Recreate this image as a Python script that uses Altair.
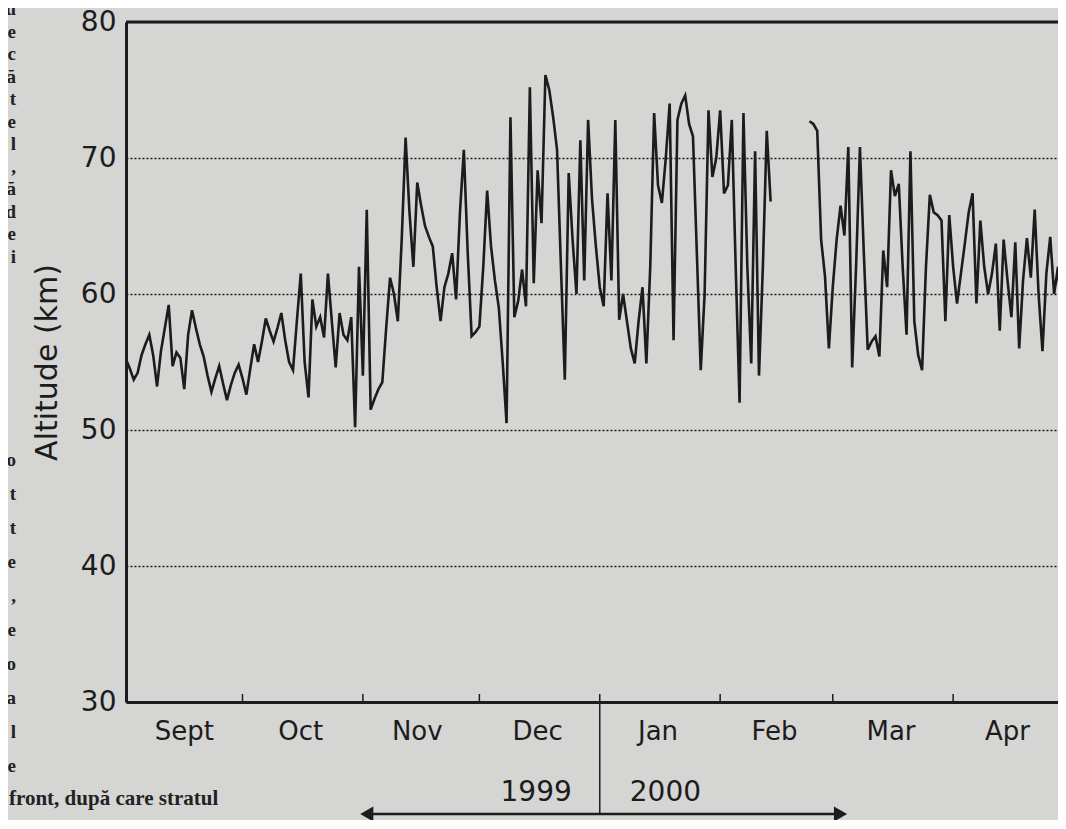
import altair as alt
import pandas as pd

# ---------------- data ----------------
start_date = "1999-09-01"          # first daily value
# daily altitude (km), day 0 = 1 Sept 1999; None = no data (mid-February gap)
altitude_km = [
    55.2, 54.5, 53.7, 54.2, 55.5, 56.3, 57.0, 55.5, 53.2, 55.8,
    57.5, 59.2, 54.7, 55.7, 55.3, 53.0, 57.0, 58.8, 57.5, 56.3,
    55.4, 54.0, 52.8, 53.8, 54.7, 53.4, 52.2, 53.3, 54.2, 54.8,
    53.8, 52.6, 54.5, 56.3, 55.0, 56.5, 58.2, 57.3, 56.5, 57.5,
    58.6, 56.6, 55.0, 54.4, 58.0, 61.5, 55.0, 52.4, 59.6, 57.6,
    58.3, 56.8, 61.5, 58.0, 54.6, 58.6, 57.0, 56.6, 58.3, 50.2,
    62.0, 54.0, 66.2, 51.5, 52.3, 53.0, 53.5, 57.5, 61.2, 60.0,
    58.0, 64.0, 71.5, 66.0, 62.0, 68.2, 66.5, 65.0, 64.2, 63.5,
    60.5, 58.0, 60.5, 61.5, 63.0, 59.6, 66.0, 70.6, 63.0, 56.9,
    57.2, 57.6, 62.0, 67.6, 63.5, 61.0, 59.0, 55.0, 50.5, 73.0,
    58.3, 59.5, 61.8, 59.1, 75.2, 60.8, 69.1, 65.2, 76.1, 75.0,
    73.0, 70.6, 62.0, 53.7, 68.9, 64.0, 60.0, 71.3, 61.0, 72.8,
    67.0, 63.5, 60.5, 59.1, 67.4, 61.0, 72.8, 58.1, 60.0, 58.0,
    56.0, 54.9, 58.0, 60.5, 54.9, 62.0, 73.3, 68.0, 66.7, 70.0,
    74.0, 56.6, 72.8, 74.0, 74.6, 72.5, 71.6, 63.0, 54.4, 60.0,
    73.5, 68.6, 70.0, 73.5, 67.4, 68.0, 72.8, 62.0, 52.0, 73.3,
    62.0, 54.9, 70.5, 54.0, 62.0, 72.0, 66.8,
    None, None, None, None, None, None, None, None, None,
    72.7, 72.5, 72.0, 64.0, 61.3, 56.0, 60.5, 64.0, 66.5, 64.3,
    70.8, 54.6, 62.0, 70.8, 63.0, 55.9, 56.5, 56.9, 55.4, 63.2,
    60.5, 69.1, 67.2, 68.1, 62.0, 57.0, 70.5, 58.0, 55.5, 54.4,
    62.0, 67.3, 66.0, 65.8, 65.4, 58.0, 65.8, 62.0, 59.3, 61.5,
    63.7, 66.0, 67.4, 59.3, 65.4, 62.0, 60.0, 61.5, 63.7, 57.3,
    64.0, 61.0, 58.3, 63.8, 56.0, 61.0, 64.1, 61.2, 66.2, 60.0,
    55.8, 61.5, 64.2, 60.0, 62.0, 57.8,
]
x_domain = ["1999-09-01", "2000-04-28"]
month_starts = ["1999-09-01", "1999-10-01", "1999-11-01", "1999-12-01",
                "2000-01-01", "2000-02-01", "2000-03-01", "2000-04-01"]
month_mids = ["1999-09-16", "1999-10-16", "1999-11-15", "1999-12-16",
              "2000-01-16", "2000-02-15", "2000-03-16", "2000-04-15"]
month_labels = ["Sept", "Oct", "Nov", "Dec", "Jan", "Feb", "Mar", "Apr"]
year_split = "2000-01-01"
year_left, year_right = "1999", "2000"
arrow_span = ["1999-11-02", "2000-03-03"]
y_ticks = [30, 40, 50, 60, 70, 80]
y_domain = [30, 80]

margin_upper = "u\ne\nc\nă\nt\ne\nl\n,\nă\nd\ne\ni"
margin_lower = "o\nt\nt\ne\n,\ne\no\na\nl\ne"
margin_bottom = "front, după care stratul"

# ---------------- tables ----------------
dates = pd.date_range(start_date, periods=len(altitude_km), freq="D")
df = pd.DataFrame({
    "date": dates.strftime("%Y-%m-%d"),
    "alt": altitude_km,
    "seg": [0 if i < 170 else 1 for i in range(len(altitude_km))],
})
df = df.dropna().reset_index(drop=True)

months_df = pd.DataFrame({"start": month_starts, "mid": month_mids, "label": month_labels})
split_df = pd.DataFrame({"date": [year_split]})
arrow_df = pd.DataFrame({"a": [arrow_span[0]], "b": [arrow_span[1]]})
heads_df = pd.DataFrame({"date": arrow_span, "shape": ["triangle-left", "triangle-right"]})

INK = "#1c1c1c"
FONT = "DejaVu Sans"
W, H = 932, 680
ARROW_Y = H + 112

xscale = alt.Scale(domain=x_domain)
yscale = alt.Scale(domain=y_domain, nice=False, zero=False)

line = alt.Chart(df).mark_line(color=INK, strokeWidth=2.6, clip=True).encode(
    x=alt.X("date:T", scale=xscale,
            axis=alt.Axis(title=None, labels=False, ticks=False, grid=False,
                          domainWidth=3, domainColor=INK)),
    y=alt.Y("alt:Q", scale=yscale,
            axis=alt.Axis(values=y_ticks, title="Altitude (km)", ticks=False,
                          domainWidth=3, domainColor=INK,
                          grid=True, gridDash=[2, 2], gridColor="#1e1e1e", gridWidth=1.4,
                          labelFont=FONT, labelFontSize=28, labelColor=INK, labelPadding=10,
                          titleFont=FONT, titleFontSize=30, titleFontWeight="normal",
                          titleColor=INK, titlePadding=18)),
    detail="seg:N",
)

top_border = alt.Chart(pd.DataFrame({"y": [y_domain[1]]})).mark_rule(
    color=INK, strokeWidth=3).encode(y=alt.Y("y:Q", scale=yscale))

month_ticks = alt.Chart(months_df).mark_rule(color=INK, strokeWidth=1.5).encode(
    x=alt.X("start:T", scale=xscale), y=alt.value(H), y2=alt.value(H - 8))

month_text = alt.Chart(months_df).mark_text(
    font=FONT, fontSize=26, color=INK, baseline="middle", align="center").encode(
    x=alt.X("mid:T", scale=xscale), y=alt.value(H + 30), text="label:N")

divider = alt.Chart(split_df).mark_rule(color=INK, strokeWidth=1.5).encode(
    x=alt.X("date:T", scale=xscale), y=alt.value(H), y2=alt.value(ARROW_Y))

year1 = alt.Chart(split_df).mark_text(
    font=FONT, fontSize=28, color=INK, align="right", baseline="middle", dx=-28,
    text=year_left).encode(x=alt.X("date:T", scale=xscale), y=alt.value(H + 91))
year2 = alt.Chart(split_df).mark_text(
    font=FONT, fontSize=28, color=INK, align="left", baseline="middle", dx=30,
    text=year_right).encode(x=alt.X("date:T", scale=xscale), y=alt.value(H + 91))

arrow_line = alt.Chart(arrow_df).mark_rule(color=INK, strokeWidth=2.5).encode(
    x=alt.X("a:T", scale=xscale), x2="b:T", y=alt.value(ARROW_Y))
arrow_heads = alt.Chart(heads_df).mark_point(
    filled=True, color=INK, size=230, opacity=1).encode(
    x=alt.X("date:T", scale=xscale), y=alt.value(ARROW_Y),
    shape=alt.Shape("shape:N", scale=None))

m1 = alt.Chart(pd.DataFrame({"t": [margin_upper]})).mark_text(
    font="Liberation Serif", fontWeight="bold", fontSize=19, color="#222",
    align="right", baseline="alphabetic", lineBreak="\n", lineHeight=22.5).encode(
    text="t:N", x=alt.value(-110), y=alt.value(-7))
m2 = alt.Chart(pd.DataFrame({"t": [margin_lower]})).mark_text(
    font="Liberation Serif", fontWeight="bold", fontSize=19, color="#222",
    align="right", baseline="alphabetic", lineBreak="\n", lineHeight=34).encode(
    text="t:N", x=alt.value(-110), y=alt.value(444))
m3 = alt.Chart(pd.DataFrame({"t": [margin_bottom]})).mark_text(
    font="Liberation Serif", fontWeight="bold", fontSize=21, color="#222",
    align="left", baseline="middle").encode(
    text="t:N", x=alt.value(-117), y=alt.value(777))

chart = alt.layer(
    line, top_border, month_ticks, month_text, divider, year1, year2,
    arrow_line, arrow_heads, m1, m2, m3,
).properties(
    width=W, height=H,
    padding={"left": 118, "top": 14, "right": 0, "bottom": 118},
    autosize=alt.AutoSizeParams(type="none"),
    background="#d5d5d3",
).configure_view(stroke=None)

chart.save("out.html", embed_options={"renderer": "svg", "actions": False})
